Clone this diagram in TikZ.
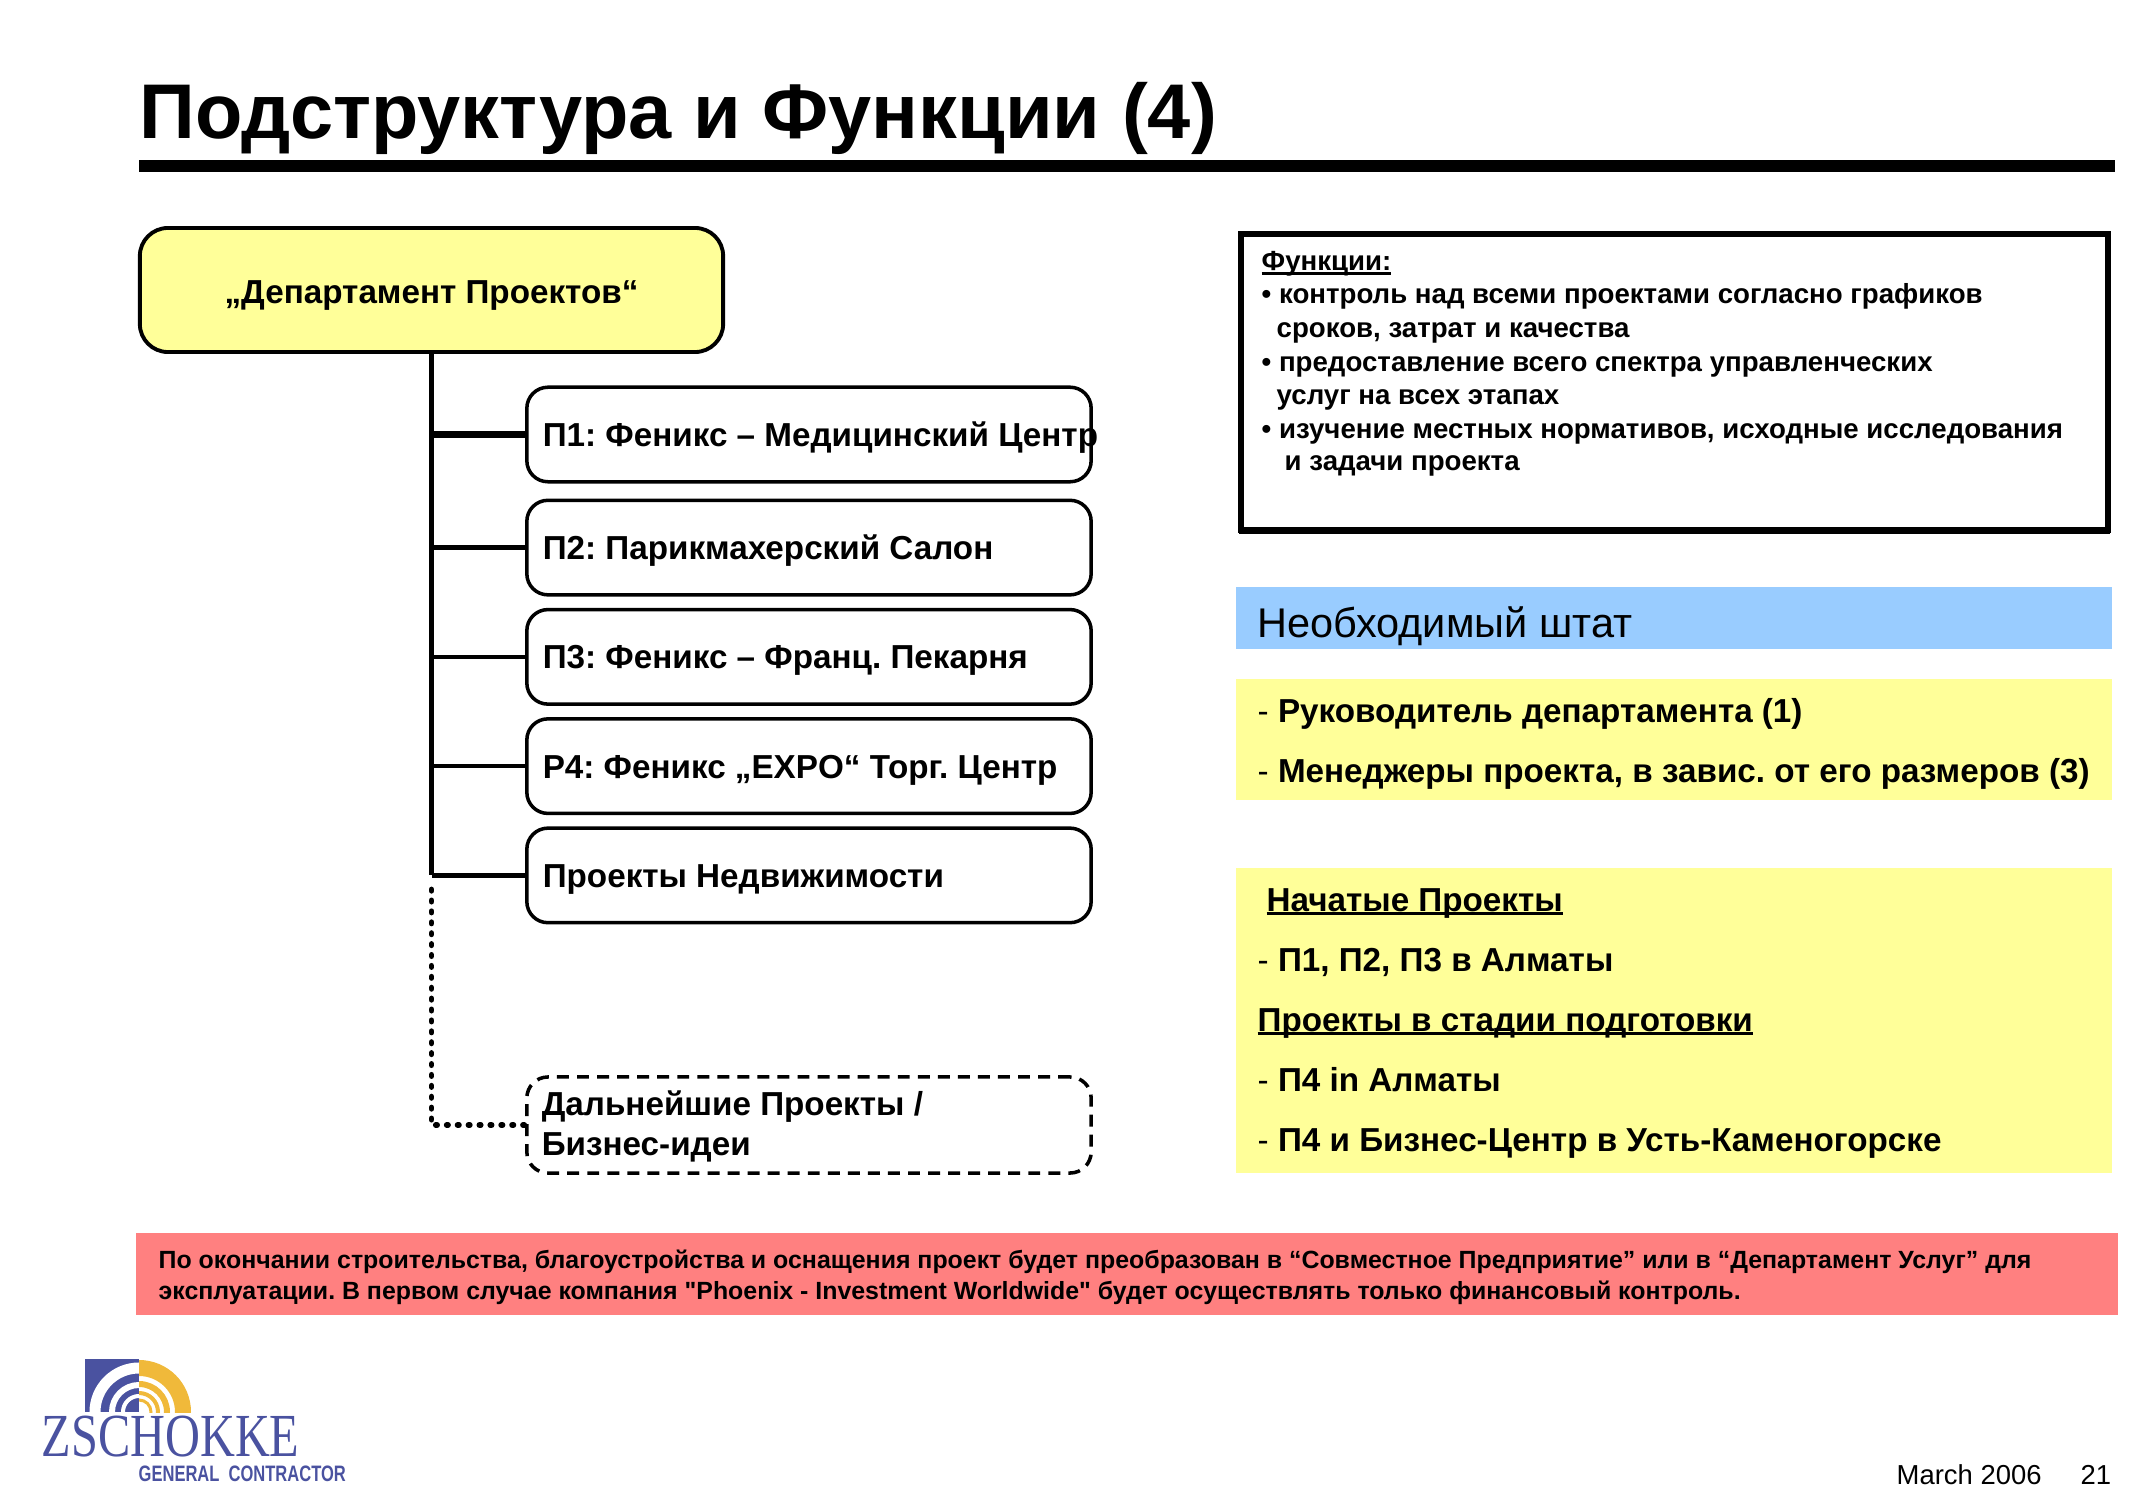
\documentclass[tikz,border=0pt]{standalone}
\usepackage{fontspec}
\setmainfont{Liberation Sans}[Ligatures=TeXOff]
\newfontfamily\logofont[FakeStretch=0.79]{Liberation Serif}
\newfontfamily\logosubfont[FakeStretch=0.74]{Liberation Sans}
\usetikzlibrary{
    calc,
    positioning
}
\definecolor{paleYellow}{HTML}{FFFF99}
\definecolor{headBlue}{HTML}{99CCFF}
\definecolor{noteRed}{HTML}{FF8080}
\definecolor{logoBlue}{HTML}{4A52A0}
\definecolor{logoGold}{HTML}{F0B93A}
\newcommand{\bodyfont}{\fontsize{9.45pt}{11.4pt}\bfseries\frenchspacing}
\newcommand{\infofont}{\fontsize{7.86pt}{9.6pt}\bfseries\frenchspacing}
\newcommand{\notefont}{\fontsize{7.08pt}{8.6pt}\bfseries\frenchspacing}
\newlength{\ulinedwidth}
\newcommand{\ulined}[1]{\settowidth{\ulinedwidth}{#1}#1\hspace{-\ulinedwidth}\rule[-1.1pt]{\ulinedwidth}{0.8pt}}
\tikzset{
    % Block diagram
    root/.style={
        draw=black,
        fill=paleYellow,
        line width=1.1pt,
        rounded corners=8pt,
        minimum width=5.83cm,
        minimum height=1.24cm
    },
    child/.style={
        draw=black,
        line width=1pt,
        rounded corners=6pt,
        minimum width=5.64cm,
        minimum height=0.945cm,
        inner sep=0pt
    },
    planned/.style={
        child,
        dash pattern=on 3.4pt off 2.3pt,
        minimum height=0.96cm
    },
    childText/.style={
        anchor=base west,
        font=\bodyfont,
        inner sep=0pt
    },
    trunk/.style={
        line width=1.7pt
    },
    branch/.style={
        line width=1.2pt
    },
    trunkDotted/.style={
        line width=1.6pt,
        line cap=round,
        dash pattern=on 0.4pt off 2.7pt
    },
    % Panels
    panelLine/.style={
        anchor=base west,
        inner sep=0pt,
        font=\bodyfont
    },
    infoLine/.style={
        anchor=base west,
        inner sep=0pt,
        font=\infofont
    },
    noteLine/.style={
        anchor=base west,
        inner sep=0pt,
        font=\notefont
    },
    footLine/.style={
        anchor=base west,
        inner sep=0pt,
        font=\fontsize{7.8pt}{10pt}\selectfont
    }
}

\begin{document}
\begin{tikzpicture}[x=0.01cm,y=-0.01cm]

    \useasboundingbox (0,0) rectangle (2156,1500);

    % Title
    \node[anchor=base west,inner sep=0pt,font=\fontsize{22.05pt}{26pt}\bfseries] (title) at (139,139) {Подструктура и Функции (4)};
    \fill (139,160) rectangle (2115,172);

    % Tree on the left
    \node[root] (dept) at (431.5,290) {};
    \node[child] (p1) at (809,434.5) {};
    \node[child,below=0.15cm of p1] (p2) {};
    \node[child,below=0.112cm of p2] (p3) {};
    \node[child,below=0.112cm of p3] (p4) {};
    \node[child,below=0.112cm of p4] (p5) {};
    \node[planned] (future) at (809,1125) {};

    \node[anchor=base,inner sep=0pt,font=\bodyfont] (deptText) at ($(dept.center)+(0,2+12)$) {„Департамент Проектов“};
    \node[childText] (p1Text) at ($(p1.west)+(17,12)$) {П1: Феникс – Медицинский Центр};
    \node[childText] (p2Text) at ($(p2.west)+(17,12)$) {П2: Парикмахерский Салон};
    \node[childText] (p3Text) at ($(p3.west)+(17,12)$) {П3: Феникс – Франц. Пекарня};
    \node[childText] (p4Text) at ($(p4.west)+(17,12)$) {Р4: Феникс „EXPO“ Торг. Центр};
    \node[childText] (p5Text) at ($(p5.west)+(17,12)$) {Проекты Недвижимости};
    \node[anchor=west,inner sep=0pt,font=\bodyfont,align=left] (futureText) at ($(future.west)+(16,1.5)$) {Дальнейшие Проекты /\\Бизнес-идеи};

    \coordinate (trunkEnd) at (dept.south |- p5.west);
    \coordinate (dottedEnd) at (dept.south |- future.west);
    \draw[trunk] (dept.south) -- (trunkEnd);
    \draw[trunk,line width=1.8pt] (dept.south |- p1.west) -- (p1.west);
    \draw[branch] (dept.south |- p2.west) -- (p2.west);
    \draw[branch] (dept.south |- p3.west) -- (p3.west);
    \draw[branch] (dept.south |- p4.west) -- (p4.west);
    \draw[branch] (trunkEnd) -- (p5.west);
    \draw[trunkDotted] ($(trunkEnd)+(0,14)$) -- (dottedEnd) -- (future.west);

    % Functions box
    \draw[line width=1.5pt] (1241,234) rectangle (2108,530);
    \fill (1239,527) rectangle (2110,534);
    \node[infoLine] (fn0) at (1261,271) {\ulined{Функции:}};
    \node[infoLine] (fn1) at (1261,304) {• контроль над всеми проектами согласно графиков};
    \node[infoLine] (fn2) at (1276,338) {сроков, затрат и качества};
    \node[infoLine] (fn3) at (1261,372) {• предоставление всего спектра управленческих};
    \node[infoLine] (fn4) at (1276,405) {услуг на всех этапах};
    \node[infoLine] (fn5) at (1261,439) {• изучение местных нормативов, исходные исследования};
    \node[infoLine] (fn6) at (1284,471) {и задачи проекта};

    % Staff
    \fill[headBlue] (1236,587) rectangle (2112,649);
    \node[anchor=base west,inner sep=0pt,font=\fontsize{11.8pt}{14pt}\selectfont] (staffHead) at (1257,637) {Необходимый штат};
    \fill[paleYellow] (1236,679) rectangle (2112,800);
    \node[panelLine] (staff1) at (1257,722) {{\mdseries -} Руководитель департамента (1)};
    \node[panelLine] (staff2) at (1257,782) {{\mdseries -} Менеджеры проекта, в завис. от его размеров (3)};

    % Projects
    \fill[paleYellow] (1236,868) rectangle (2112,1173);
    \node[panelLine] (proj0) at (1266,911) {\ulined{Начатые Проекты}};
    \node[panelLine] (proj1) at (1257,971) {{\mdseries -} П1, П2, П3 в Алматы};
    \node[panelLine] (proj2) at (1257,1031) {\ulined{Проекты в стадии подготовки}};
    \node[panelLine] (proj3) at (1257,1091) {{\mdseries -} П4 in Алматы};
    \node[panelLine] (proj4) at (1257,1151) {{\mdseries -} П4 и Бизнес-Центр в Усть-Каменогорске};

    % Note
    \fill[noteRed] (136,1233) rectangle (2118,1315);
    \node[noteLine] (note1) at (158,1268) {По окончании строительства, благоустройства и оснащения проект будет преобразован в “Совместное Предприятие” или в “Департамент Услуг” для};
    \node[noteLine] (note2) at (158,1299) {эксплуатации. В первом случае компания "Phoenix - Investment Worldwide" будет осуществлять только финансовый контроль.};

    % Logo
    \fill[logoBlue] (85,1359) rectangle (139,1412);
    \begin{scope}
        \clip (85,1359) rectangle (139,1412);
        \foreach \rr/\ww in {44/11,27/6,16/4} {
            \draw[white,line width=\ww*0.01cm] (139,1412) circle[radius=\rr];
        }
    \end{scope}
    \begin{scope}
        \clip (139,1359) rectangle (191,1412);
        \foreach \rr/\ww in {44/16,28/6,19/4,12/3} {
            \draw[logoGold,line width=\ww*0.01cm] (139,1412) circle[radius=\rr];
        }
    \end{scope}
    \node[anchor=base west,inner sep=0pt,text=logoBlue,font=\logofont\fontsize{17.4pt}{18pt}\selectfont] (logoName) at (41,1456) {ZSCHOKKE};
    \node[anchor=base west,inner sep=0pt,text=logoBlue,font=\logosubfont\fontsize{6.35pt}{7pt}\bfseries] (logoSub) at (138,1481) {GENERAL\ \ CONTRACTOR};

    % Footer
    \node[footLine] (date) at (1896,1484) {March 2006};
    \node[footLine] (page) at (2080,1484) {21};

\end{tikzpicture}
\end{document}
